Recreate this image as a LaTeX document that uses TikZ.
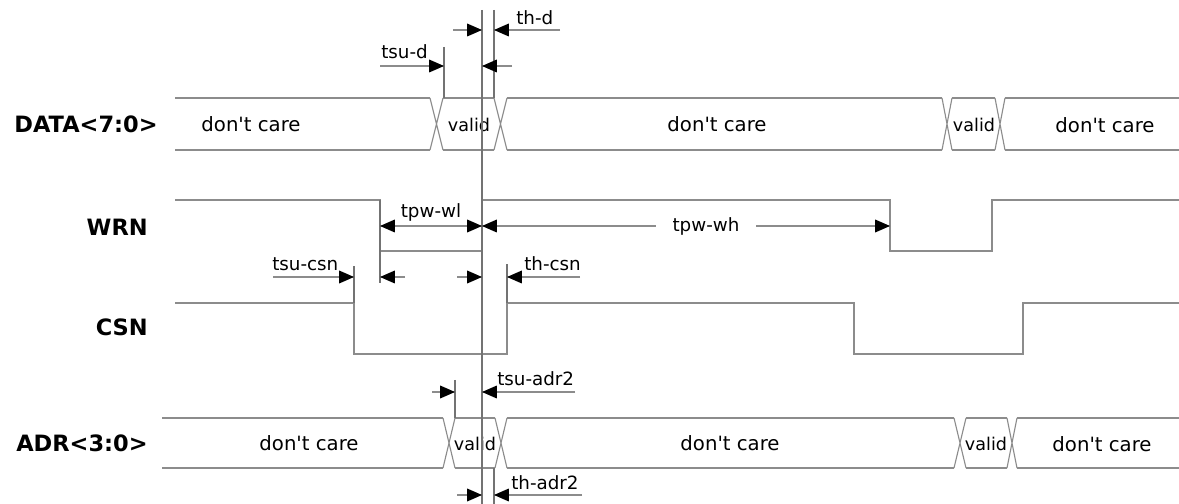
\documentclass[tikz,border=0pt]{standalone}
\usepackage{fontspec}
\setmainfont{DejaVu Sans}
\usetikzlibrary{arrows.meta,calc}
\newcommand{\dontcare}{don\textquotesingle t care}
\tikzset{
    wave/.style={draw=black!45, line width=0.8pt},
    guide/.style={draw=black!55, line width=0.8pt},
    dim/.style={draw=black!45, line width=0.8pt,
        -{Triangle[length=10.5pt,width=9pt,color=black]}},
    dimboth/.style={draw=black!45, line width=0.8pt,
        {Triangle[length=10.5pt,width=9pt,color=black]}-{Triangle[length=10.5pt,width=9pt,color=black]}},
    signame/.style={anchor=east, inner sep=0pt, font=\fontsize{16}{18}\selectfont\bfseries},
    care/.style={inner sep=0pt, font=\fontsize{14}{16}\selectfont},
    validtxt/.style={inner sep=0pt, font=\fontsize{12.5}{14}\selectfont},
    timing/.style={inner sep=0pt, font=\fontsize{13}{15}\selectfont}
}

\begin{document}
\begin{tikzpicture}[x=0.025cm, y=-0.025cm]
                \useasboundingbox (0,0) rectangle (1179,504);

                % edges in time
                \coordinate (Wf) at (380,200);
                \coordinate (Wr) at (482,200);
                \coordinate (Cf) at (354,303);
                \coordinate (Cr) at (507,303);
                \coordinate (Ds) at (444,98);
                \coordinate (Dh) at (494,98);
                \coordinate (As) at (455,418);
                \coordinate (Ah) at (494,468);

                % signal names
                \node[signame] (data) at (158,124) {DATA<7:0>};
                \node[signame] (wrn) at (148,227) {WRN};
                \node[signame] (csn) at (148,327) {CSN};
                \node[signame] (adr) at (148,443) {ADR<3:0>};

                % DATA bus
                \foreach \s/\e in {175/430,443/494,507/942,952/995,1005/1179}
                    \draw[wave] (\s,98) -- (\e,98) (\s,150) -- (\e,150);
                \foreach \a/\b in {430/443,494/507,942/952,995/1005}
                    \draw[wave] (\a,98) -- (\b,150) (\a,150) -- (\b,98);
                \node[care] (d1) at (251,124) {\dontcare};
                \node[validtxt] (d2) at (469,125) {valid};
                \node[care] (d3) at (717,124) {\dontcare};
                \node[validtxt] (d4) at (974,125) {valid};
                \node[care] (d5) at (1105,125) {\dontcare};

                % WRN and CSN
                \draw[wave] (175,200) -- (Wf) -- (380,251) -- (482,251) -- (Wr) -- (890,200)
                    -- (890,251) -- (992,251) -- (992,200) -- (1179,200);
                \draw[wave] (175,303) -- (Cf) -- (354,354) -- (507,354) -- (Cr) -- (854,303)
                    -- (854,354) -- (1023,354) -- (1023,303) -- (1179,303);

                % ADR bus
                \foreach \s/\e in {162/443,455/495,507/954,966/1007,1017/1179}
                    \draw[wave] (\s,418) -- (\e,418) (\s,468) -- (\e,468);
                \foreach \a/\b in {443/455,495/507,954/966,1007/1017}
                    \draw[wave] (\a,418) -- (\b,468) (\a,468) -- (\b,418);
                \node[care] (a1) at (309,443) {\dontcare};
                \node[validtxt] (a2) at (475,444) {valid};
                \node[care] (a3) at (730,443) {\dontcare};
                \node[validtxt] (a4) at (986,444) {valid};
                \node[care] (a5) at (1102,444) {\dontcare};

                % guide lines
                \draw[guide] (482,10) -- (482,504);
                \draw[guide] (494,10) -- (Dh);
                \draw[guide] (444,47) -- (Ds);
                \draw[guide] (Wf) -- (380,283);
                \draw[guide] (Cf) -- (354,266);
                \draw[guide] (Cr) -- (507,264);
                \draw[guide] (455,380) -- (As);
                \draw[guide] (Ah) -- (494,504);

                % data setup / hold
                \draw[dim] (380,66) -- (444,66);
                \node[timing, anchor=base west] (tsud) at (381,59) {tsu-d};
                \draw[dim] (453,30) -- (482,30);
                \draw[dim] (560,30) -- (494,30);
                \draw[dim] (512,66) -- (482,66);
                \node[timing, anchor=base west] (thd) at (516,25) {th-d};

                % write pulse
                \draw[dimboth] (380,226) -- node[timing, above=3pt] (tpwwl) {tpw-wl} (482,226);
                \draw[dimboth] (482,226) -- (890,226);
                \node[timing, fill=white, inner xsep=12pt, inner ysep=2pt] (tpwwh) at (706,226) {tpw-wh};

                % chip select
                \draw[dim] (273,277) -- (354,277);
                \node[timing, anchor=base west] (tsucsn) at (272,271) {tsu-csn};
                \draw[dim] (405,277) -- (380,277);
                \draw[dim] (457,277) -- (482,277);
                \draw[dim] (580,277) -- (507,277);
                \node[timing, anchor=base west] (thcsn) at (524,271) {th-csn};

                % address setup / hold
                \draw[dim] (432,392) -- (455,392);
                \draw[dim] (575,392) -- (482,392);
                \node[timing, anchor=base west] (tsuadr) at (497,386) {tsu-adr2};
                \draw[dim] (457,495) -- (482,495);
                \draw[dim] (582,495) -- (494,495);
                \node[timing, anchor=base west] (thadr) at (511,489) {th-adr2};
\end{tikzpicture}
\end{document}
